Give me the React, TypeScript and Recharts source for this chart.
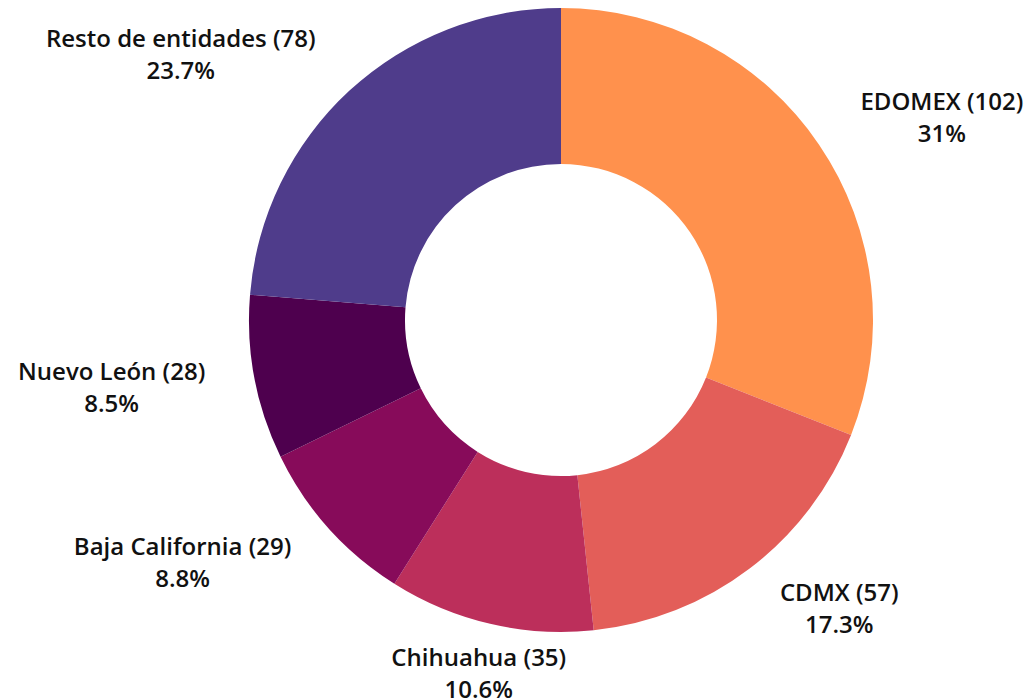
import { PieChart, Pie, Cell } from 'recharts'

const ENTIDADES = ['EDOMEX', 'CDMX', 'Chihuahua', 'Baja California', 'Nuevo León', 'Resto de entidades']
const CASOS = [102, 57, 35, 29, 28, 78]
const COLORES = ['#FF914D', '#E35E59', '#BC2F5B', '#870B5A', '#4E004E', '#4F3C8B']

const data = ENTIDADES.map((name, i) => ({ name, value: CASOS[i] }))
const RAD = Math.PI / 180

function fmtPct(p: number) {
  const s = (p * 100).toFixed(1)
  return s.endsWith('.0') ? s.slice(0, -2) : s
}

function renderLabel(props: any) {
  const { cx, cy, midAngle, outerRadius, name, value, percent } = props
  const r = outerRadius + 50
  const c = Math.cos(-midAngle * RAD)
  const x = cx + r * c
  const y = cy + r * Math.sin(-midAngle * RAD)
  const w = 400
  const h = 90
  let left = x - w / 2
  let justify = 'center'
  if (c > 0.3) {
    left = x
    justify = 'flex-start'
  } else if (c < -0.3) {
    left = x - w
    justify = 'flex-end'
  }
  return (
    <foreignObject x={left} y={y - h / 2} width={w} height={h}>
      <div
        style={{
          width: w,
          height: h,
          display: 'flex',
          alignItems: 'center',
          justifyContent: justify,
          fontFamily: '"Open Sans", sans-serif',
          fontSize: 24,
          fontWeight: 600,
          lineHeight: '32px',
          color: '#111',
        }}
      >
        <div style={{ textAlign: 'center', whiteSpace: 'nowrap' }}>
          <div>{`${name} (${value})`}</div>
          <div>{`${fmtPct(percent)}%`}</div>
        </div>
      </div>
    </foreignObject>
  )
}

export default function App() {
  return (
    <div style={{ position: 'absolute', left: 0, top: 0, width: 1030, height: 700, background: '#fff' }}>
      <PieChart width={1030} height={700} margin={{ top: 0, right: 0, bottom: 0, left: 0 }}>
        <Pie
          data={data}
          dataKey="value"
          nameKey="name"
          cx={561}
          cy={320}
          innerRadius={156}
          outerRadius={312}
          startAngle={90}
          endAngle={-270}
          stroke="none"
          label={renderLabel}
          labelLine={false}
          isAnimationActive={false}
        >
          {data.map((d, i) => (
            <Cell key={d.name} fill={COLORES[i]} />
          ))}
        </Pie>
      </PieChart>
    </div>
  )
}
